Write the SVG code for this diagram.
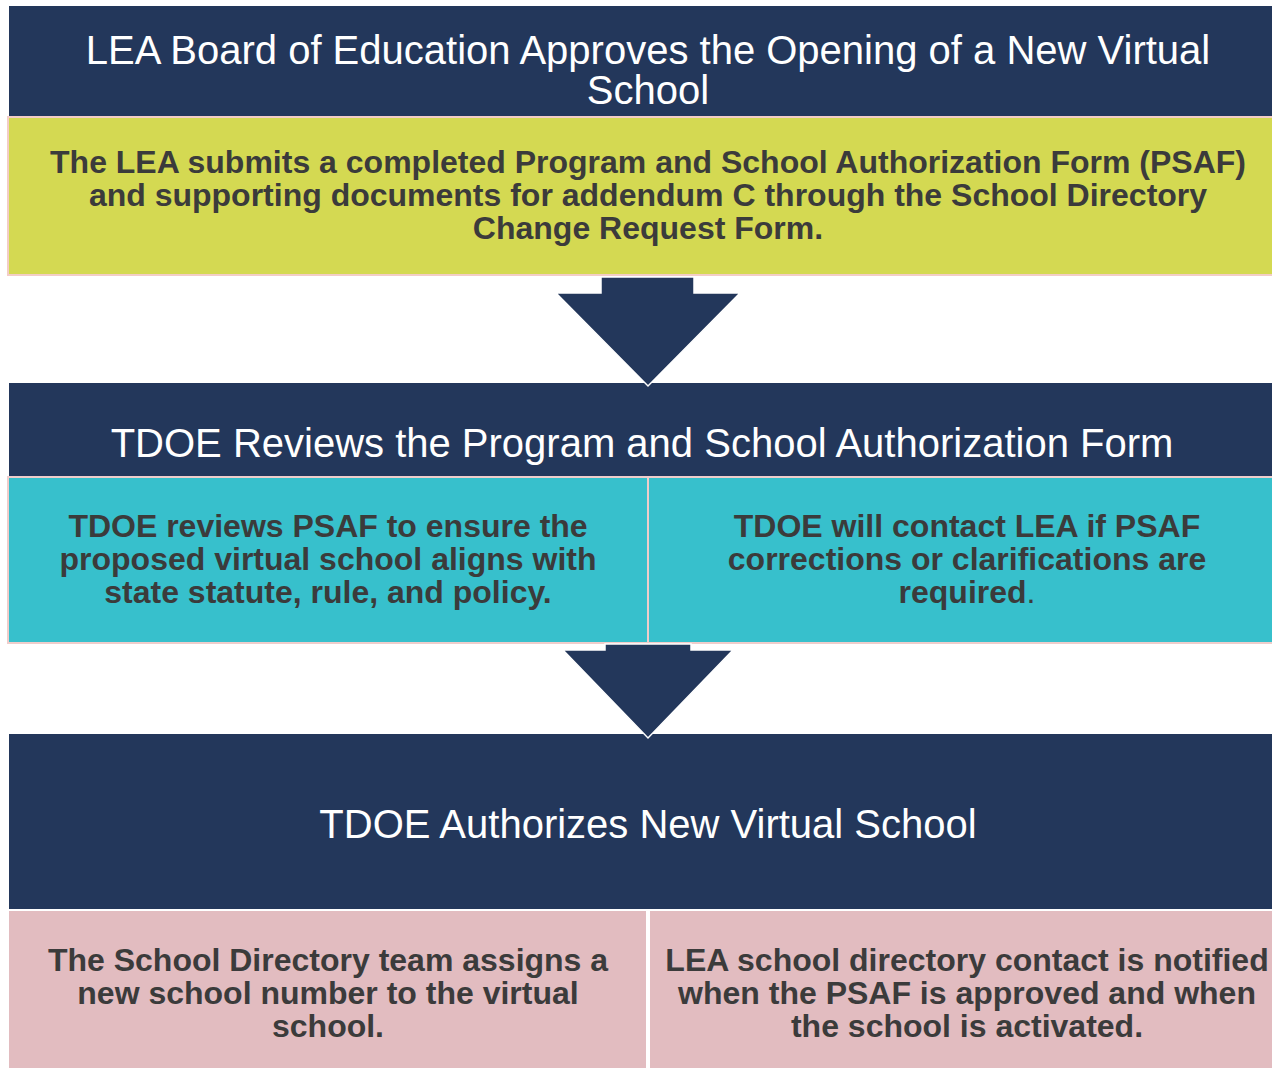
<svg xmlns="http://www.w3.org/2000/svg" width="1272" height="1068" viewBox="0 0 1272 1068">
<style>
.hdr{fill:#23375b}
.title{font-family:"Liberation Sans",Arial,sans-serif;font-size:40px;fill:#ffffff;text-anchor:middle}
.body{font-family:"Liberation Sans",Arial,sans-serif;font-size:32px;font-weight:bold;fill:#3b3b3b;text-anchor:middle}
.arrow{fill:#23375b;stroke:#ffffff;stroke-width:1.5}
</style>
<rect width="1272" height="1068" fill="#ffffff"/>
<g id="step1-header">
<rect class="hdr" x="9" y="6" width="1264" height="110"/>
<text class="title" x="648" y="64">LEA Board of Education Approves the Opening of a New Virtual</text>
<text class="title" x="648" y="104">School</text>
</g>
<g id="step1-detail">
<rect x="8" y="117" width="1266" height="158" fill="#d4d952" stroke="#f3cdc6" stroke-width="2"/>
<text class="body" x="648" y="173">The LEA submits a completed Program and School Authorization Form (PSAF)</text>
<text class="body" x="648" y="206">and supporting documents for addendum C through the School Directory</text>
<text class="body" x="648" y="239">Change Request Form.</text>
</g>
<g id="step2-header">
<rect class="hdr" x="9" y="383" width="1264" height="93"/>
<text class="title" x="642" y="457">TDOE Reviews the Program and School Authorization Form</text>
</g>
<g id="step2-left">
<rect x="8" y="477" width="640" height="166" fill="#37c0cc" stroke="#efcdcb" stroke-width="2"/>
<text class="body" x="328" y="537">TDOE reviews PSAF to ensure the</text>
<text class="body" x="328" y="570">proposed virtual school aligns with</text>
<text class="body" x="328" y="603">state statute, rule, and policy.</text>
</g>
<g id="step2-right">
<rect x="648" y="477" width="626" height="166" fill="#37c0cc" stroke="#efcdcb" stroke-width="2"/>
<text class="body" x="967" y="537">TDOE will contact LEA if PSAF</text>
<text class="body" x="967" y="570">corrections or clarifications are</text>
<text class="body" x="967" y="603">required<tspan font-weight="normal">.</tspan></text>
</g>
<g id="step3-header">
<rect class="hdr" x="9" y="734" width="1264" height="175"/>
<text class="title" x="648" y="838">TDOE Authorizes New Virtual School</text>
</g>
<g id="step3-left">
<rect x="9" y="911" width="637" height="157" fill="#e2bcc0"/>
<text class="body" x="328" y="971">The School Directory team assigns a</text>
<text class="body" x="328" y="1004">new school number to the virtual</text>
<text class="body" x="328" y="1037">school.</text>
</g>
<g id="step3-right">
<rect x="650" y="911" width="623" height="157" fill="#e2bcc0"/>
<text class="body" x="967" y="971">LEA school directory contact is notified</text>
<text class="body" x="967" y="1004">when the PSAF is approved and when</text>
<text class="body" x="967" y="1037">the school is activated.</text>
</g>
<g id="connectors">
<polygon class="arrow" points="601,277 694,277 694,293 740,293 648,386 556,293 601,293"/>
<polygon class="arrow" points="605,644 691,644 691,650 733,650 648,738 563,650 605,650"/>
</g>
</svg>
